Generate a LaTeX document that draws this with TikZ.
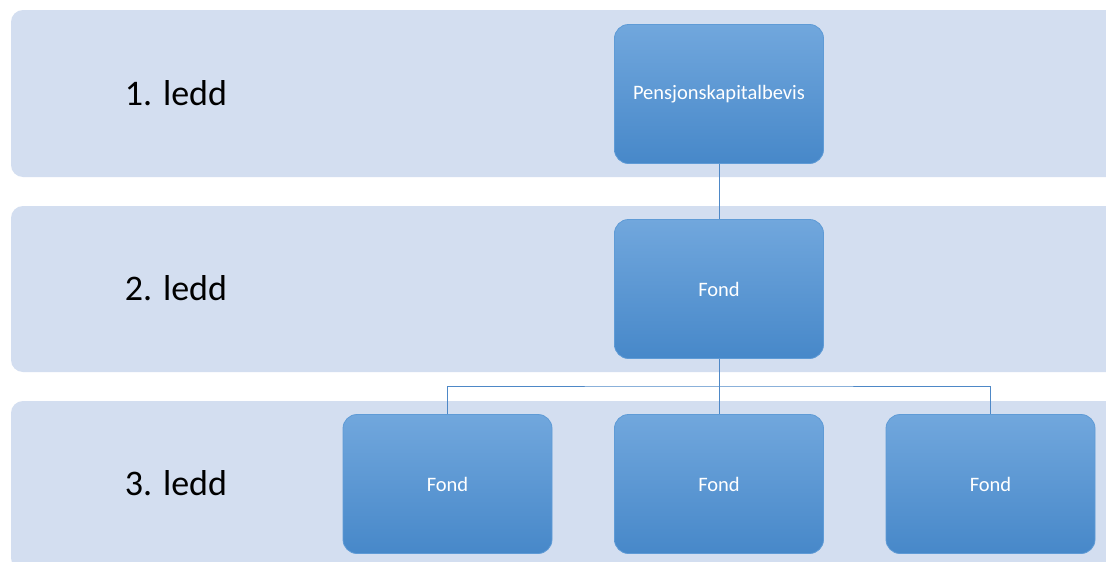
\documentclass[tikz,border=0pt]{standalone}
\usepackage{fontspec}
\setmainfont{Carlito}
\definecolor{bandfill}{HTML}{D3DEF0}
\definecolor{boxtop}{HTML}{71A7DD}
\definecolor{boxbot}{HTML}{4788C9}
\definecolor{boxline}{HTML}{5F9BD6}
\definecolor{linkcol}{HTML}{4E88C7}
\tikzset{
  band/.style={fill=bandfill, draw=none, rounded corners=12pt},
  levellabel/.style={font=\fontsize{36}{40}\selectfont, text=black, inner sep=0pt},
  unitbox/.style={rounded corners=14pt, draw=boxline, line width=0.8pt,
    top color=boxtop, bottom color=boxbot, minimum width=209pt, minimum height=139pt,
    text=white, font=\fontsize{20.5}{24}\selectfont, inner sep=0pt},
  link/.style={draw=linkcol, line width=1pt}
}
\begin{document}
\begin{tikzpicture}[x=1pt,y=-1pt]
\useasboundingbox (0,0) rectangle (1106,562);
\clip (0,0) rectangle (1106,562);
\fill[white] (0,0) rectangle (1106,562);
\path[band] (11,10) rectangle (1125,177);
\path[band] (11,206) rectangle (1125,372);
\path[band] (11,401) rectangle (1125,570);
\node[levellabel] (l1) at (176,93) {1. ledd};
\node[levellabel] (l2) at (176,288) {2. ledd};
\node[levellabel] (l3) at (176,483) {3. ledd};
\node[unitbox] (top) at (719,94) {Pensjonskapitalbevis};
\node[unitbox] (mid) at (719,289) {Fond};
\node[unitbox] (b1) at (447.5,484) {Fond};
\node[unitbox] (b2) at (719,484) {Fond};
\node[unitbox] (b3) at (990.5,484) {Fond};
\coordinate (bus) at (719,386);
\draw[link] (top.south) -- (mid.north);
\draw[link] (mid.south) -- (b2.north);
\draw[link] (b1.north) |- (bus) -| (b3.north);
\end{tikzpicture}
\end{document}
